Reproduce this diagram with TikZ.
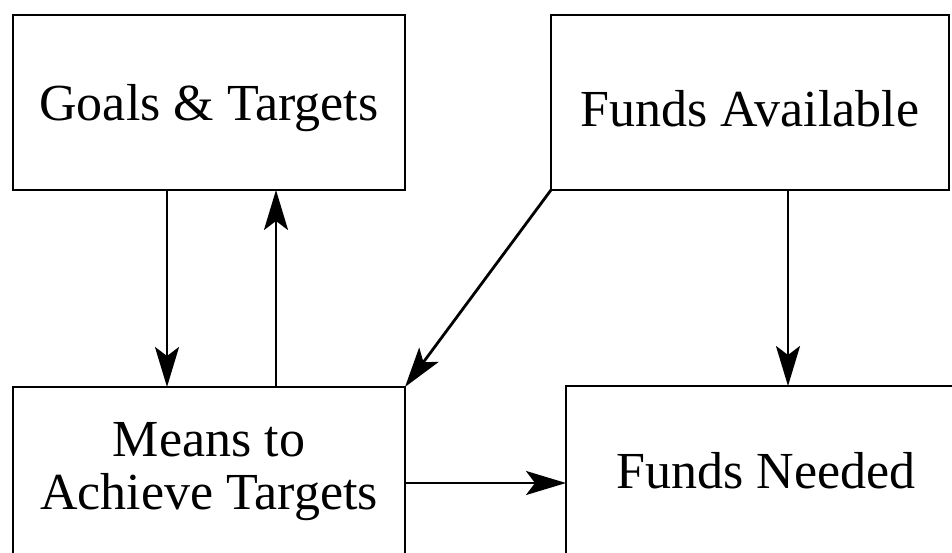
\documentclass[tikz,border=0pt]{standalone}
\usepackage{fontspec}
\setmainfont{Liberation Serif}
\usetikzlibrary{arrows.meta,positioning}

\begin{document}
\begin{tikzpicture}[x=1pt, y=-1pt
    , block/.style = {rectangle,draw=black,line width=2.8pt,outer sep=0pt,
        font=\fontsize{52}{53}\selectfont,align=center}
    , link/.style = {line width=2.8pt,-{Stealth[length=40pt,width=24pt,inset=9pt]}}
]
\useasboundingbox (0,0) rectangle (952,553);
\clip (0,0) rectangle (952,553);
\node[block,minimum width=392pt,minimum height=175pt,text height=48pt] (goals) at (209,102.5) {Goals \& Targets};
\node[block,minimum width=398pt,minimum height=175pt,text height=48pt] (avail) at (750,102.5) {Funds Available};
\node[block,minimum width=392pt,minimum height=170pt] (means) at (209,472) {Means to\\Achieve Targets};
\node[block,minimum width=400pt,minimum height=170pt] (needed) at (766,471) {Funds Needed};
\draw[link] ([xshift=-42pt]goals.south) -- ([xshift=-42pt]means.north);
\draw[link] ([xshift=67pt]means.north) -- ([xshift=67pt]goals.south);
\draw[link] (avail.south west) -- (means.north east);
\draw[link] ([xshift=38pt]avail.south) -- ([xshift=38pt]avail.south |- needed.north);
\draw[link] ([yshift=-11pt]means.east) -- ([yshift=-11pt]means.east -| needed.west);
\end{tikzpicture}
\end{document}
